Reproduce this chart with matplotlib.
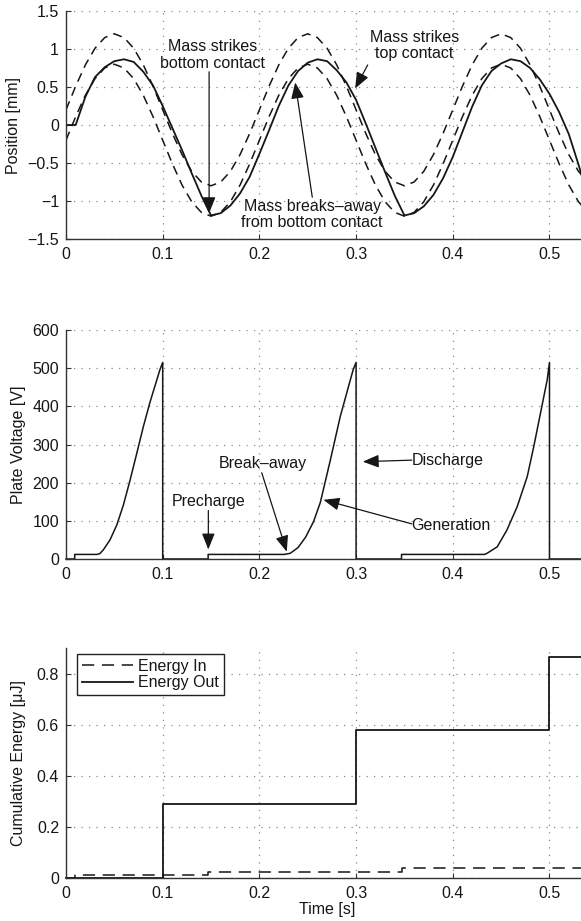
import numpy as np
import matplotlib
matplotlib.use("Agg")
import matplotlib.pyplot as plt

plt.rcParams["font.family"] = ["Liberation Sans", "DejaVu Sans"]
plt.rcParams["font.size"] = 11.5

# ---------------- data ----------------
# Position panel, sampled every 10 ms
pos_t = np.round(np.arange(0, 0.545, 0.01), 2)
top_contact = [0.20, 0.51, 0.79, 1.01, 1.15, 1.20, 1.15, 1.01, 0.79, 0.51,
               0.20, -0.11, -0.39, -0.61, -0.75, -0.80, -0.75, -0.61, -0.39, -0.11,
               0.20, 0.51, 0.79, 1.01, 1.15, 1.20, 1.15, 1.01, 0.79, 0.51,
               0.20, -0.11, -0.39, -0.61, -0.75, -0.80, -0.75, -0.61, -0.39, -0.11,
               0.20, 0.51, 0.79, 1.01, 1.15, 1.20, 1.15, 1.01, 0.79, 0.51,
               0.20, -0.11, -0.39, -0.61, -0.75]
bottom_contact = [-0.20, 0.11, 0.39, 0.61, 0.75, 0.80, 0.75, 0.61, 0.39, 0.11,
                  -0.20, -0.51, -0.79, -1.01, -1.15, -1.20, -1.15, -1.01, -0.79, -0.51,
                  -0.20, 0.11, 0.39, 0.61, 0.75, 0.80, 0.75, 0.61, 0.39, 0.11,
                  -0.20, -0.51, -0.79, -1.01, -1.15, -1.20, -1.15, -1.01, -0.79, -0.51,
                  -0.20, 0.11, 0.39, 0.61, 0.75, 0.80, 0.75, 0.61, 0.39, 0.11,
                  -0.20, -0.51, -0.79, -1.01, -1.15]
mass_pos = [0.00, 0.00, 0.37, 0.63, 0.76, 0.84, 0.865, 0.83, 0.70, 0.52,
            0.25, -0.04, -0.33, -0.635, -0.93, -1.19, -1.16, -1.06, -0.90, -0.68,
            -0.38, -0.07, 0.25, 0.52, 0.71, 0.82, 0.865, 0.84, 0.72, 0.56,
            0.33, 0.02, -0.30, -0.62, -0.93, -1.19, -1.16, -1.07, -0.92, -0.70,
            -0.42, -0.09, 0.24, 0.52, 0.71, 0.81, 0.865, 0.84, 0.75, 0.60,
            0.41, 0.17, -0.12, -0.52, -0.95]

# Plate voltage
volt_t = [0.0, 0.009, 0.009, 0.032, 0.035, 0.0386, 0.0455, 0.0525, 0.0593, 0.0663,
          0.0732, 0.080, 0.087, 0.0939, 0.097, 0.100, 0.100, 0.147, 0.147,
          0.226, 0.232, 0.240, 0.248, 0.256, 0.263, 0.273, 0.2836, 0.294, 0.297,
          0.300, 0.300, 0.347, 0.347, 0.433, 0.4355, 0.446, 0.456, 0.4666, 0.477,
          0.4837, 0.4907, 0.4976, 0.500, 0.500, 0.54]
volt = [0, 0, 12, 12, 14, 24, 50, 89, 141, 207,
        277, 347, 412, 469, 495, 515, 0, 0, 12,
        12, 15, 30, 58, 98, 148, 255, 373, 469, 496,
        515, 0, 0, 12, 12, 15, 32, 76, 137, 216,
        294, 382, 469, 515, 0, 0]

# Cumulative energy
ein_t = [0.0, 0.009, 0.147, 0.347, 0.54]
energy_in = [0.0, 0.012, 0.025, 0.038, 0.038]
eout_t = [0.0, 0.1, 0.3, 0.5, 0.54]
energy_out = [0.0, 0.29, 0.58, 0.865, 0.865]

x_ticks = [0, 0.1, 0.2, 0.3, 0.4, 0.5]
x_ticklabels = ["0", "0.1", "0.2", "0.3", "0.4", "0.5"]
pos_ticks = [-1.5, -1, -0.5, 0, 0.5, 1, 1.5]
pos_ticklabels = ["\u22121.5", "\u22121", "\u22120.5", "0", "0.5", "1", "1.5"]
volt_ticks = [0, 100, 200, 300, 400, 500, 600]
volt_ticklabels = ["0", "100", "200", "300", "400", "500", "600"]
energy_ticks = [0, 0.2, 0.4, 0.6, 0.8]
energy_ticklabels = ["0", "0.2", "0.4", "0.6", "0.8"]

# ---------------- figure ----------------
W, H = 581, 921
fig = plt.figure(figsize=(W / 100, H / 100), dpi=100)
ink = "#161616"
xmax = 0.5326


def make_axes(top_px, bottom_px):
    left = 66 / W
    ax = fig.add_axes([left, 1 - bottom_px / H, 1 - left, (bottom_px - top_px) / H])
    ax.set_xlim(0, xmax)
    for s in ("top", "right"):
        ax.spines[s].set_visible(False)
    for s in ("left", "bottom"):
        ax.spines[s].set_linewidth(1.0)
        ax.spines[s].set_color("#333333")
    ax.tick_params(direction="in", length=3.5, width=0.8, colors="#333333",
                   labelcolor=ink, labelsize=11.5)
    ax.tick_params(axis="x", pad=5.5)
    ax.tick_params(axis="y", pad=5)
    ax.set_xticks(x_ticks)
    ax.set_xticklabels(x_ticklabels)
    ax.grid(True, linestyle=(0, (1, 5)), linewidth=0.9, color="#8a8a8a")
    ax.set_axisbelow(True)
    return ax


def arrow(ax, tail, head):
    ax.annotate("", xy=head, xytext=tail,
                arrowprops=dict(arrowstyle="-|>,head_length=0.7,head_width=0.28",
                                color=ink, lw=0.9, mutation_scale=14,
                                shrinkA=0, shrinkB=0))


# Position panel
ax1 = make_axes(11, 239)
ax1.set_ylim(-1.5, 1.5)
ax1.set_yticks(pos_ticks)
ax1.set_yticklabels(pos_ticklabels)
ax1.plot(pos_t, top_contact, color=ink, lw=1.1, dashes=(6, 4))
ax1.plot(pos_t, bottom_contact, color=ink, lw=1.1, dashes=(6, 4))
ax1.plot(pos_t, mass_pos, color=ink, lw=1.3)
ax1.set_ylabel("Position [mm]", va="center", color=ink)
ax1.yaxis.set_label_coords(-0.101, 0.5)

ax1.text(0.152, 0.92, "Mass strikes\nbottom contact", ha="center", va="center",
         linespacing=1.1, color=ink)
arrow(ax1, (0.148, 0.70), (0.148, -1.16))
ax1.text(0.3605, 1.046, "Mass strikes\ntop contact", ha="center", va="center",
         linespacing=1.1, color=ink)
arrow(ax1, (0.312, 0.79), (0.299, 0.48))
ax1.text(0.2545, -1.178, "Mass breaks\u2013away\nfrom bottom contact", ha="center",
         va="center", linespacing=1.1, color=ink)
arrow(ax1, (0.2547, -0.95), (0.237, 0.56))

# Voltage panel
ax2 = make_axes(330, 559)
ax2.set_ylim(0, 600)
ax2.set_yticks(volt_ticks)
ax2.set_yticklabels(volt_ticklabels)
ax2.plot(volt_t, volt, color=ink, lw=1.1, clip_on=False)
ax2.set_ylabel("Plate Voltage [V]", va="center", color=ink)
ax2.yaxis.set_label_coords(-0.0926, 0.5)

ax2.text(0.1472, 150, "Precharge", ha="center", va="center", color=ink)
arrow(ax2, (0.1472, 127), (0.1472, 25))
ax2.text(0.2033, 249, "Break\u2013away", ha="center", va="center", color=ink)
arrow(ax2, (0.2024, 226), (0.2283, 19))
ax2.text(0.3575, 259, "Discharge", ha="left", va="center", color=ink)
arrow(ax2, (0.3576, 259), (0.3069, 255))
ax2.text(0.3575, 88, "Generation", ha="left", va="center", color=ink)
arrow(ax2, (0.3576, 92), (0.2662, 155))

# Energy panel
ax3 = make_axes(648, 878)
ax3.set_ylim(0, 0.9)
ax3.set_yticks(energy_ticks)
ax3.set_yticklabels(energy_ticklabels)
ax3.plot(ein_t, energy_in, color=ink, lw=1.1, dashes=(8, 5), drawstyle="steps-post",
         label="Energy In", clip_on=False)
ax3.plot(eout_t, energy_out, color=ink, lw=1.3, drawstyle="steps-post",
         label="Energy Out", clip_on=False)
ax3.set_ylabel("Cumulative Energy [\u03bcJ]", va="center", color=ink)
ax3.yaxis.set_label_coords(-0.0926, 0.5)
ax3.set_xlabel("Time [s]", va="top", color=ink)
ax3.xaxis.set_label_coords(0.507, -0.104)

leg = ax3.legend(loc="upper left", bbox_to_anchor=(0.021, 0.975), borderaxespad=0,
                 fancybox=False, framealpha=1, edgecolor="#222222",
                 handlelength=3.2, handletextpad=0.35, labelspacing=0.1,
                 borderpad=0.3, fontsize=11.5)
leg.get_frame().set_linewidth(1.0)
for t in leg.get_texts():
    t.set_color(ink)

fig.savefig("out.png", dpi=100)
